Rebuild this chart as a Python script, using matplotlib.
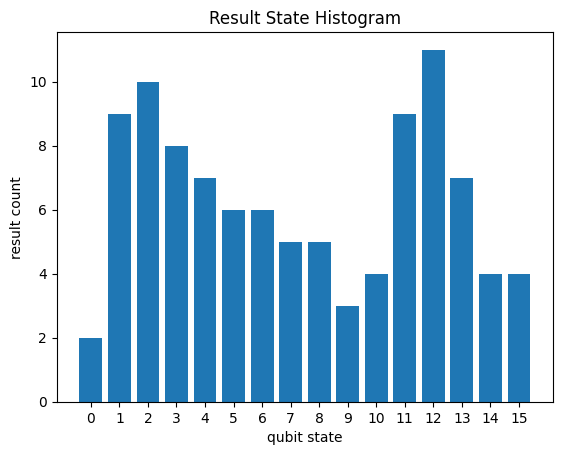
import matplotlib
matplotlib.use("Agg")
import matplotlib.pyplot as plt

states = list(range(16))
counts = [2, 9, 10, 8, 7, 6, 6, 5, 5, 3, 4, 9, 11, 7, 4, 4]

fig, ax = plt.subplots(figsize=(6.4, 4.8), dpi=100)
ax.bar(states, counts)
ax.set_xticks(states)
ax.set_title('Result State Histogram')
ax.set_xlabel('qubit state')
ax.set_ylabel('result count')
fig.savefig('out.png', bbox_inches='tight')
